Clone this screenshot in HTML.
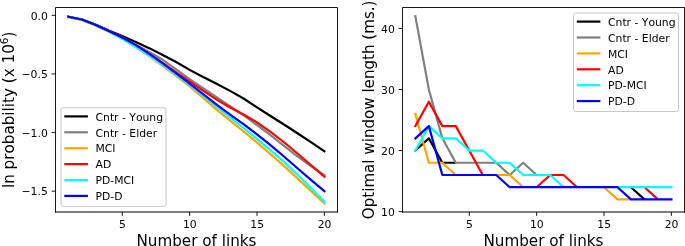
<!DOCTYPE html><html><head><meta charset="utf-8"><style>html,body{margin:0;padding:0;background:#fff;}svg{display:block;}text{font-family:"DejaVu Sans","Liberation Sans",sans-serif;fill:#000;font-kerning:none;}</style></head><body>
<svg width="685" height="246" viewBox="0 0 685 246">
<rect width="685" height="246" fill="#fff"/>
<defs><clipPath id="clipL"><rect x="55.5" y="7.5" width="282.0" height="204.5"/></clipPath></defs>
<g clip-path="url(#clipL)">
<polyline points="68.37,16.76 81.84,19.52 95.32,24.59 108.80,30.61 122.27,36.11 135.75,41.90 149.22,48.14 162.69,54.95 176.17,62.07 189.64,69.87 203.12,77.06 216.59,83.79 230.07,90.87 243.54,98.53 257.02,107.33 270.50,115.97 283.97,124.53 297.44,133.22 310.92,142.09 324.39,151.20" fill="none" stroke="#000000" stroke-width="2.2" stroke-linejoin="round" stroke-linecap="square"/>
<polyline points="68.37,16.76 81.84,19.52 95.32,24.70 108.80,30.96 122.27,37.34 135.75,44.78 149.22,52.07 162.69,59.82 176.17,69.47 189.64,79.11 203.12,88.27 216.59,97.23 230.07,106.10 243.54,115.22 257.02,124.99 270.50,135.22 283.97,145.81 297.44,156.29 310.92,166.13 324.39,175.25" fill="none" stroke="#808080" stroke-width="2.2" stroke-linejoin="round" stroke-linecap="square"/>
<polyline points="68.37,17.32 81.84,20.13 95.32,25.44 108.80,31.73 122.27,38.68 135.75,46.99 149.22,56.07 162.69,65.78 176.17,75.97 189.64,86.37 203.12,97.89 216.59,109.56 230.07,120.70 243.54,131.47 257.02,142.69 270.50,154.10 283.97,165.89 297.44,178.39 310.92,190.93 324.39,203.37" fill="none" stroke="#ffa500" stroke-width="2.2" stroke-linejoin="round" stroke-linecap="square"/>
<polyline points="68.37,16.76 81.84,19.52 95.32,24.70 108.80,30.96 122.27,37.34 135.75,45.34 149.22,53.71 162.69,62.80 176.17,72.29 189.64,81.53 203.12,90.70 216.59,99.58 230.07,107.46 243.54,114.47 257.02,122.41 270.50,131.78 283.97,142.25 297.44,153.51 310.92,164.99 324.39,176.65" fill="none" stroke="#ff0000" stroke-width="2.2" stroke-linejoin="round" stroke-linecap="square"/>
<polyline points="68.37,16.76 81.84,19.52 95.32,24.82 108.80,31.20 122.27,38.74 135.75,46.75 149.22,55.51 162.69,64.96 176.17,74.75 189.64,84.97 203.12,95.61 216.59,106.65 230.07,117.41 243.54,128.01 257.02,139.17 270.50,150.29 283.97,161.84 297.44,174.64 310.92,188.04 324.39,201.85" fill="none" stroke="#00ffff" stroke-width="2.2" stroke-linejoin="round" stroke-linecap="square"/>
<polyline points="68.37,16.76 81.84,19.52 95.32,24.70 108.80,30.96 122.27,37.57 135.75,45.13 149.22,53.85 162.69,63.43 176.17,73.45 189.64,83.67 203.12,94.05 216.59,104.52 230.07,114.55 243.54,124.12 257.02,134.37 270.50,145.17 283.97,156.49 297.44,168.26 310.92,179.85 324.39,191.19" fill="none" stroke="#0000ff" stroke-width="2.2" stroke-linejoin="round" stroke-linecap="square"/>
</g>
<path d="M55.5,212.55 V7.5 H337.5 V212.55" fill="none" stroke="#000" stroke-width="0.9" stroke-linejoin="miter"/>
<line x1="55.05" y1="212.0" x2="337.95" y2="212.0" stroke="#000" stroke-width="1.1"/>
<line x1="122.27" y1="212.0" x2="122.27" y2="215.9" stroke="#000" stroke-width="0.9"/>
<text x="122.47" y="227.8" font-size="10.8" text-anchor="middle">5</text>
<line x1="189.64" y1="212.0" x2="189.64" y2="215.9" stroke="#000" stroke-width="0.9"/>
<text x="189.84" y="227.8" font-size="10.8" text-anchor="middle">10</text>
<line x1="257.02" y1="212.0" x2="257.02" y2="215.9" stroke="#000" stroke-width="0.9"/>
<text x="257.22" y="227.8" font-size="10.8" text-anchor="middle">15</text>
<line x1="324.39" y1="212.0" x2="324.39" y2="215.9" stroke="#000" stroke-width="0.9"/>
<text x="324.59" y="227.8" font-size="10.8" text-anchor="middle">20</text>
<line x1="51.6" y1="15.35" x2="55.5" y2="15.35" stroke="#000" stroke-width="0.9"/>
<text x="47.80" y="20" font-size="10.8" text-anchor="end">0.0</text>
<line x1="51.6" y1="73.95" x2="55.5" y2="73.95" stroke="#000" stroke-width="0.9"/>
<text x="47.80" y="78" font-size="10.8" text-anchor="end">−0.5</text>
<line x1="51.6" y1="132.55" x2="55.5" y2="132.55" stroke="#000" stroke-width="0.9"/>
<text x="47.80" y="137" font-size="10.8" text-anchor="end">−1.0</text>
<line x1="51.6" y1="191.15" x2="55.5" y2="191.15" stroke="#000" stroke-width="0.9"/>
<text x="47.80" y="195" font-size="10.8" text-anchor="end">−1.5</text>
<text x="196.50" y="246.1" font-size="15.2" text-anchor="middle">Number of links</text>
<text transform="translate(13.7,109.75) rotate(-90)" font-size="15.2" text-anchor="middle">ln probability (x 10<tspan font-size="10.6" dy="-6">6</tspan><tspan dy="6">)</tspan></text>
<rect x="61.0" y="107.8" width="105" height="98.5" rx="2.2" ry="2.2" fill="#fff" fill-opacity="0.8" stroke="#c8c8c8" stroke-width="1.0"/>
<line x1="65.40" y1="116.40" x2="86.80" y2="116.40" stroke="#000000" stroke-width="2.2" stroke-linecap="square"/>
<text x="95.50" y="120.60" font-size="10.8">Cntr - Young</text>
<line x1="65.40" y1="132.30" x2="86.80" y2="132.30" stroke="#808080" stroke-width="2.2" stroke-linecap="square"/>
<text x="95.50" y="136.50" font-size="10.8">Cntr - Elder</text>
<line x1="65.40" y1="148.20" x2="86.80" y2="148.20" stroke="#ffa500" stroke-width="2.2" stroke-linecap="square"/>
<text x="95.50" y="152.40" font-size="10.8">MCI</text>
<line x1="65.40" y1="164.10" x2="86.80" y2="164.10" stroke="#ff0000" stroke-width="2.2" stroke-linecap="square"/>
<text x="95.50" y="168.30" font-size="10.8">AD</text>
<line x1="65.40" y1="180.00" x2="86.80" y2="180.00" stroke="#00ffff" stroke-width="2.2" stroke-linecap="square"/>
<text x="95.50" y="184.20" font-size="10.8">PD-MCI</text>
<line x1="65.40" y1="195.90" x2="86.80" y2="195.90" stroke="#0000ff" stroke-width="2.2" stroke-linecap="square"/>
<text x="95.50" y="200.10" font-size="10.8">PD-D</text>
<defs><clipPath id="clipR"><rect x="402.5" y="7.5" width="282.0" height="204.5"/></clipPath></defs>
<g clip-path="url(#clipR)">
<polyline points="414.56,151.29 428.85,138.33 442.32,162.77 455.80,162.77" fill="none" stroke="#000000" stroke-width="2.2" stroke-linejoin="round" stroke-linecap="butt"/>
<polyline points="630.97,187.20 644.44,199.41" fill="none" stroke="#000000" stroke-width="2.2" stroke-linejoin="round" stroke-linecap="butt"/>
<polyline points="415.17,15.09 428.85,89.47 442.32,138.33 455.80,162.77 469.27,162.77 482.75,162.77 496.22,162.77 509.69,174.98 523.17,162.77 536.64,174.98" fill="none" stroke="#808080" stroke-width="2.2" stroke-linejoin="round" stroke-linecap="butt"/>
<polyline points="415.08,112.84 428.85,162.77 442.32,162.77 455.80,174.98" fill="none" stroke="#ffa500" stroke-width="2.2" stroke-linejoin="round" stroke-linecap="butt"/>
<polyline points="496.22,174.98 509.69,174.98 523.17,187.20" fill="none" stroke="#ffa500" stroke-width="2.2" stroke-linejoin="round" stroke-linecap="butt"/>
<polyline points="604.02,187.20 617.50,199.41 630.97,199.41" fill="none" stroke="#ffa500" stroke-width="2.2" stroke-linejoin="round" stroke-linecap="butt"/>
<polyline points="414.84,127.08 428.85,101.69 442.32,126.12 455.80,126.12 469.27,150.55 482.75,174.98" fill="none" stroke="#ff0000" stroke-width="2.2" stroke-linejoin="round" stroke-linecap="butt"/>
<polyline points="536.64,187.20 550.12,174.98 563.60,174.98 577.07,187.20" fill="none" stroke="#ff0000" stroke-width="2.2" stroke-linejoin="round" stroke-linecap="butt"/>
<polyline points="644.44,187.20 657.92,199.41" fill="none" stroke="#ff0000" stroke-width="2.2" stroke-linejoin="round" stroke-linecap="butt"/>
<polyline points="414.84,151.51 428.85,126.12 442.32,138.33 455.80,138.33 469.27,150.55 482.75,150.55 496.22,162.77 509.69,162.77 523.17,174.98 536.64,174.98 550.12,174.98 563.60,187.20" fill="none" stroke="#00ffff" stroke-width="2.2" stroke-linejoin="round" stroke-linecap="butt"/>
<polyline points="617.50,187.20 630.97,187.20 644.44,187.20 657.92,187.20 672.50,187.20" fill="none" stroke="#00ffff" stroke-width="2.2" stroke-linejoin="round" stroke-linecap="butt"/>
<polyline points="414.56,139.07 428.85,126.12 442.32,174.98 455.80,174.98 469.27,174.98 482.75,174.98 496.22,174.98 509.69,187.20 523.17,187.20 536.64,187.20 550.12,187.20 563.60,187.20 577.07,187.20 590.54,187.20 604.02,187.20 617.50,187.20 630.97,199.41 644.44,199.41 657.92,199.41 672.50,199.41" fill="none" stroke="#0000ff" stroke-width="2.2" stroke-linejoin="round" stroke-linecap="butt"/>
</g>
<path d="M402.5,212.55 V7.5 H684.5 V212.55" fill="none" stroke="#000" stroke-width="0.9" stroke-linejoin="miter"/>
<line x1="402.05" y1="212.0" x2="684.95" y2="212.0" stroke="#000" stroke-width="1.1"/>
<line x1="469.27" y1="212.0" x2="469.27" y2="215.9" stroke="#000" stroke-width="0.9"/>
<text x="469.47" y="227.8" font-size="10.8" text-anchor="middle">5</text>
<line x1="536.64" y1="212.0" x2="536.64" y2="215.9" stroke="#000" stroke-width="0.9"/>
<text x="536.85" y="227.8" font-size="10.8" text-anchor="middle">10</text>
<line x1="604.02" y1="212.0" x2="604.02" y2="215.9" stroke="#000" stroke-width="0.9"/>
<text x="604.22" y="227.8" font-size="10.8" text-anchor="middle">15</text>
<line x1="671.39" y1="212.0" x2="671.39" y2="215.9" stroke="#000" stroke-width="0.9"/>
<text x="671.60" y="227.8" font-size="10.8" text-anchor="middle">20</text>
<line x1="398.6" y1="211.63" x2="402.5" y2="211.63" stroke="#000" stroke-width="0.9"/>
<text x="394.80" y="216.13" font-size="10.8" text-anchor="end">10</text>
<line x1="398.6" y1="150.55" x2="402.5" y2="150.55" stroke="#000" stroke-width="0.9"/>
<text x="394.80" y="155.05" font-size="10.8" text-anchor="end">20</text>
<line x1="398.6" y1="89.47" x2="402.5" y2="89.47" stroke="#000" stroke-width="0.9"/>
<text x="394.80" y="93.97" font-size="10.8" text-anchor="end">30</text>
<line x1="398.6" y1="28.39" x2="402.5" y2="28.39" stroke="#000" stroke-width="0.9"/>
<text x="394.80" y="32.89" font-size="10.8" text-anchor="end">40</text>
<text x="543.50" y="246.1" font-size="15.2" text-anchor="middle">Number of links</text>
<text transform="translate(374.1,109.85) rotate(-90)" font-size="15.1" text-anchor="middle">Optimal window length (ms.)</text>
<rect x="573.5" y="13.0" width="105" height="98.5" rx="2.2" ry="2.2" fill="#fff" fill-opacity="0.8" stroke="#c8c8c8" stroke-width="1.0"/>
<line x1="577.90" y1="21.60" x2="599.30" y2="21.60" stroke="#000000" stroke-width="2.2" stroke-linecap="square"/>
<text x="608.00" y="25.80" font-size="10.8">Cntr - Young</text>
<line x1="577.90" y1="37.50" x2="599.30" y2="37.50" stroke="#808080" stroke-width="2.2" stroke-linecap="square"/>
<text x="608.00" y="41.70" font-size="10.8">Cntr - Elder</text>
<line x1="577.90" y1="53.40" x2="599.30" y2="53.40" stroke="#ffa500" stroke-width="2.2" stroke-linecap="square"/>
<text x="608.00" y="57.60" font-size="10.8">MCI</text>
<line x1="577.90" y1="69.30" x2="599.30" y2="69.30" stroke="#ff0000" stroke-width="2.2" stroke-linecap="square"/>
<text x="608.00" y="73.50" font-size="10.8">AD</text>
<line x1="577.90" y1="85.20" x2="599.30" y2="85.20" stroke="#00ffff" stroke-width="2.2" stroke-linecap="square"/>
<text x="608.00" y="89.40" font-size="10.8">PD-MCI</text>
<line x1="577.90" y1="101.10" x2="599.30" y2="101.10" stroke="#0000ff" stroke-width="2.2" stroke-linecap="square"/>
<text x="608.00" y="105.30" font-size="10.8">PD-D</text>
</svg></body></html>
